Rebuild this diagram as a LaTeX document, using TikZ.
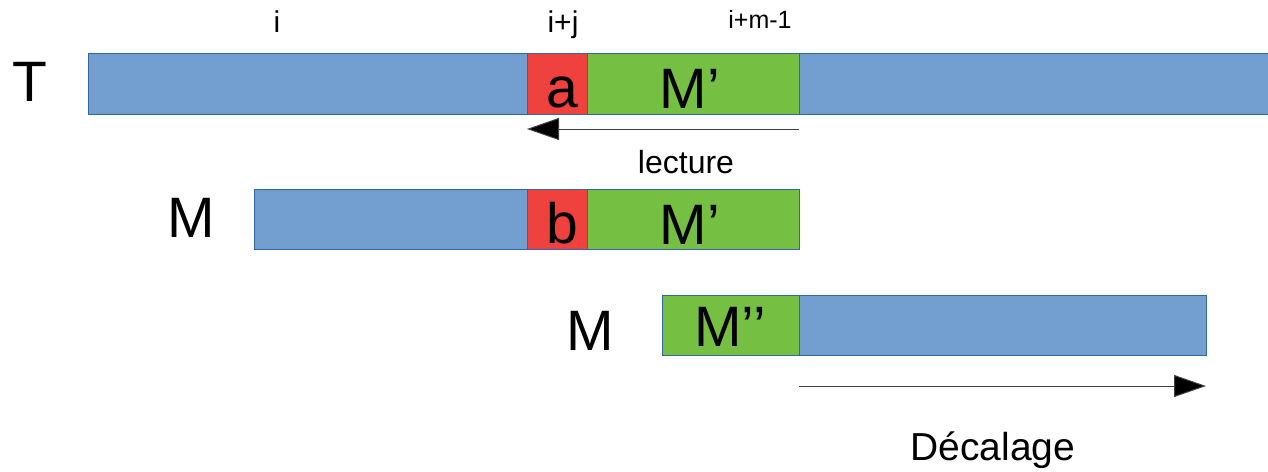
\documentclass[tikz,border=0pt]{standalone}
\usepackage{fontspec}
\setmainfont{Liberation Sans}
\usetikzlibrary{arrows.meta}
\definecolor{cblue}{HTML}{729FCF}
\definecolor{cgreen}{HTML}{75BF43}
\definecolor{cred}{HTML}{EF413D}
\definecolor{cedge}{HTML}{3465A4}
\tikzset{
  cell/.style={draw=cedge, line width=0.9pt, inner sep=0pt, anchor=north west, minimum height=61pt},
  big/.style={anchor=base, inner sep=0pt, font=\fontsize{57}{60}\selectfont},
  idx/.style={anchor=base, inner sep=0pt, font=\fontsize{30}{34}\selectfont},
  small/.style={anchor=base, inner sep=0pt, font=\fontsize{25}{28}\selectfont},
  mid/.style={anchor=base, inner sep=0pt, font=\fontsize{32}{36}\selectfont},
  lab/.style={anchor=base, inner sep=0pt, font=\fontsize{39}{44}\selectfont},
  arr/.style={line width=1pt, draw=black!75, -{Triangle[length=32pt,width=22pt,fill=black]}}
}
\begin{document}
\begin{tikzpicture}[x=1pt,y=-1pt]
\useasboundingbox (0,0) rectangle (1268,471);
% top indices
\node[idx] (ni) at (277,32) {i};
\node[idx] (nij) at (563,32) {i+j};
\node[small] (nim) at (760,28) {i+m-1};
% row T
\node[big] (lT) at (30,101) {T};
\node[cell, fill=cblue, minimum width=439pt] (t1) at (88,53) {};
\node[cell, fill=cred, minimum width=60pt] (ta) at (527,53) {};
\node[cell, fill=cgreen, minimum width=212pt] (tm) at (587,53) {};
\node[cell, fill=cblue, minimum width=469pt] (t2) at (799,53) {};
\node[big] (ta-t) at (562,107) {a};
\node[big] (tm-t) at (690,108) {M’};
% lecture arrow
\coordinate (l1) at (799,129);
\coordinate (l0) at (527,129);
\draw[arr] (l1) -- (l0);
\node[mid] (lect) at (686,173) {lecture};
% row M
\node[big] (lM1) at (191,237) {M};
\node[cell, fill=cblue, minimum width=273pt, minimum height=60pt] (m1) at (254,189) {};
\node[cell, fill=cred, minimum width=60pt, minimum height=60pt] (mb) at (527,189) {};
\node[cell, fill=cgreen, minimum width=212pt, minimum height=60pt] (mm) at (587,189) {};
\node[big] (mb-t) at (562,243) {b};
\node[big] (mm-t) at (690,244) {M’};
% row M shifted
\node[big] (lM2) at (590,350) {M};
\node[cell, fill=cgreen, minimum width=137pt, minimum height=60pt] (sm) at (662,295) {};
\node[cell, fill=cblue, minimum width=407pt, minimum height=60pt] (s2) at (799,295) {};
\node[big] (sm-t) at (730,346) {M’’};
% decalage arrow
\coordinate (d0) at (799,386);
\coordinate (d1) at (1206,386);
\draw[arr] (d0) -- (d1);
\node[lab] (dec) at (993,460) {Décalage};
\end{tikzpicture}
\end{document}
